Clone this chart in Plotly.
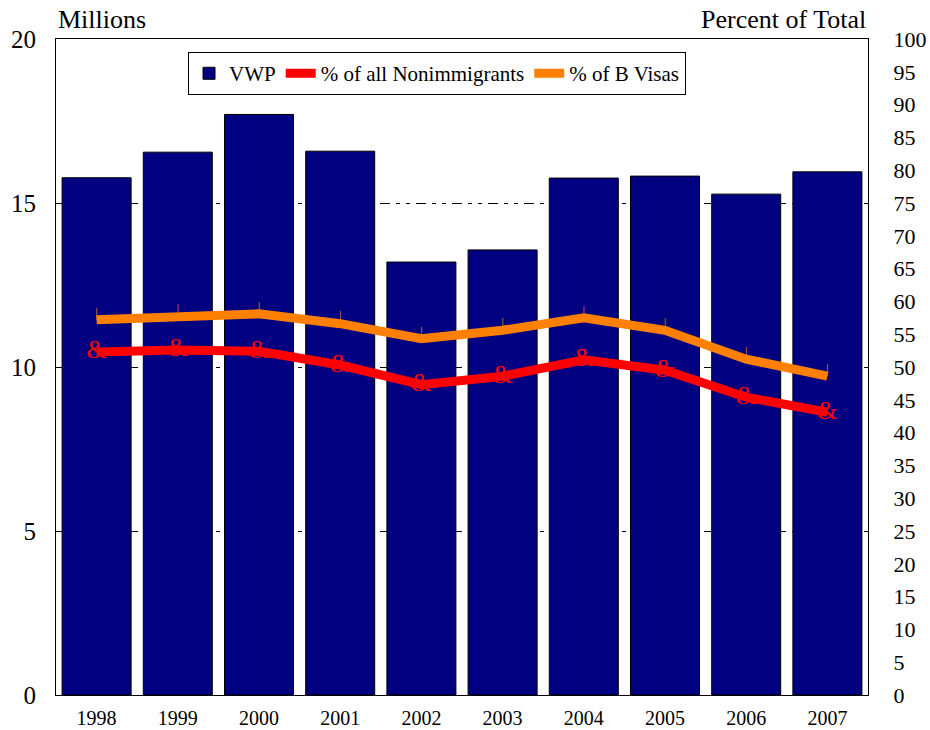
import plotly.graph_objects as go

years = ["1998", "1999", "2000", "2001", "2002", "2003", "2004", "2005", "2006", "2007"]
vwp_millions = [15.77, 16.55, 17.70, 16.58, 13.20, 13.57, 15.76, 15.82, 15.27, 15.95]
pct_nonimmigrants = [52.3, 52.6, 52.4, 50.3, 47.3, 48.6, 51.1, 49.5, 45.4, 43.1]
pct_b_visas = [57.2, 57.8, 58.1, 56.6, 54.3, 55.6, 57.5, 55.6, 51.2, 48.6]

font_family = "Liberation Serif, Times New Roman, serif"

fig = go.Figure()
fig.add_trace(go.Bar(
    x=years, y=vwp_millions, name="VWP",
    marker=dict(color="#000080", line=dict(color="#000000", width=1)),
    yaxis="y",
))
fig.add_trace(go.Scatter(
    x=years, y=pct_nonimmigrants, name="% of all Nonimmigrants",
    mode="lines+text", text=["&"] * len(years), textposition="middle center",
    textfont=dict(color="#FF0000", size=26, family=font_family),
    line=dict(color="#FF0000", width=9),
    yaxis="y2",
))
fig.add_trace(go.Scatter(
    x=years, y=pct_b_visas, name="% of B Visas",
    mode="lines+text", text=["|"] * len(years), textposition="top center",
    textfont=dict(color="#FF8000", size=13, family=font_family),
    line=dict(color="#FF8000", width=9),
    yaxis="y2",
))

fig.update_layout(
    width=930, height=730,
    margin=dict(l=56, r=62, t=39, b=35, autoexpand=False),
    paper_bgcolor="white", plot_bgcolor="white",
    font=dict(family=font_family, size=26, color="black"),
    bargap=0.15,
    showlegend=True,
    legend=dict(
        orientation="h", x=0.1626, y=0.980, xanchor="left", yanchor="top",
        bordercolor="black", borderwidth=1, bgcolor="white",
        font=dict(size=21, family=font_family), itemwidth=30,
        tracegroupgap=0,
    ),
    xaxis=dict(
        type="category", showline=True, linecolor="black", linewidth=1, mirror=True,
        ticks="", tickfont=dict(size=20), ticklabelstandoff=5, showgrid=False,
        automargin=False,
    ),
    yaxis=dict(
        range=[0, 20], dtick=5, showline=True, linecolor="black", linewidth=1, mirror=True,
        showgrid=True, gridcolor="black", gridwidth=1, griddash="10px,6px,4px,6px,4px,6px",
        ticks="inside", ticklen=5, tickcolor="black", ticklabelstandoff=14,
        zeroline=False, tickfont=dict(size=25), automargin=False,
    ),
    yaxis2=dict(
        range=[0, 100], dtick=5, overlaying="y", side="right", showgrid=False,
        showline=True, linecolor="black", linewidth=1, ticks="", zeroline=False,
        ticklabelstandoff=20, tickfont=dict(size=22), automargin=False,
    ),
    annotations=[
        dict(text="Millions", xref="paper", yref="paper", x=0, y=1.029, xanchor="left",
             yanchor="middle", showarrow=False, font=dict(size=26)),
        dict(text="Percent of Total", xref="paper", yref="paper", x=1, y=1.029, xanchor="right",
             yanchor="middle", showarrow=False, font=dict(size=26)),
    ],
)

fig.write_html(
    "out.html",
    config={"displayModeBar": False},
    post_script="document.body.style.margin='0';document.body.style.overflow='hidden';",
)
